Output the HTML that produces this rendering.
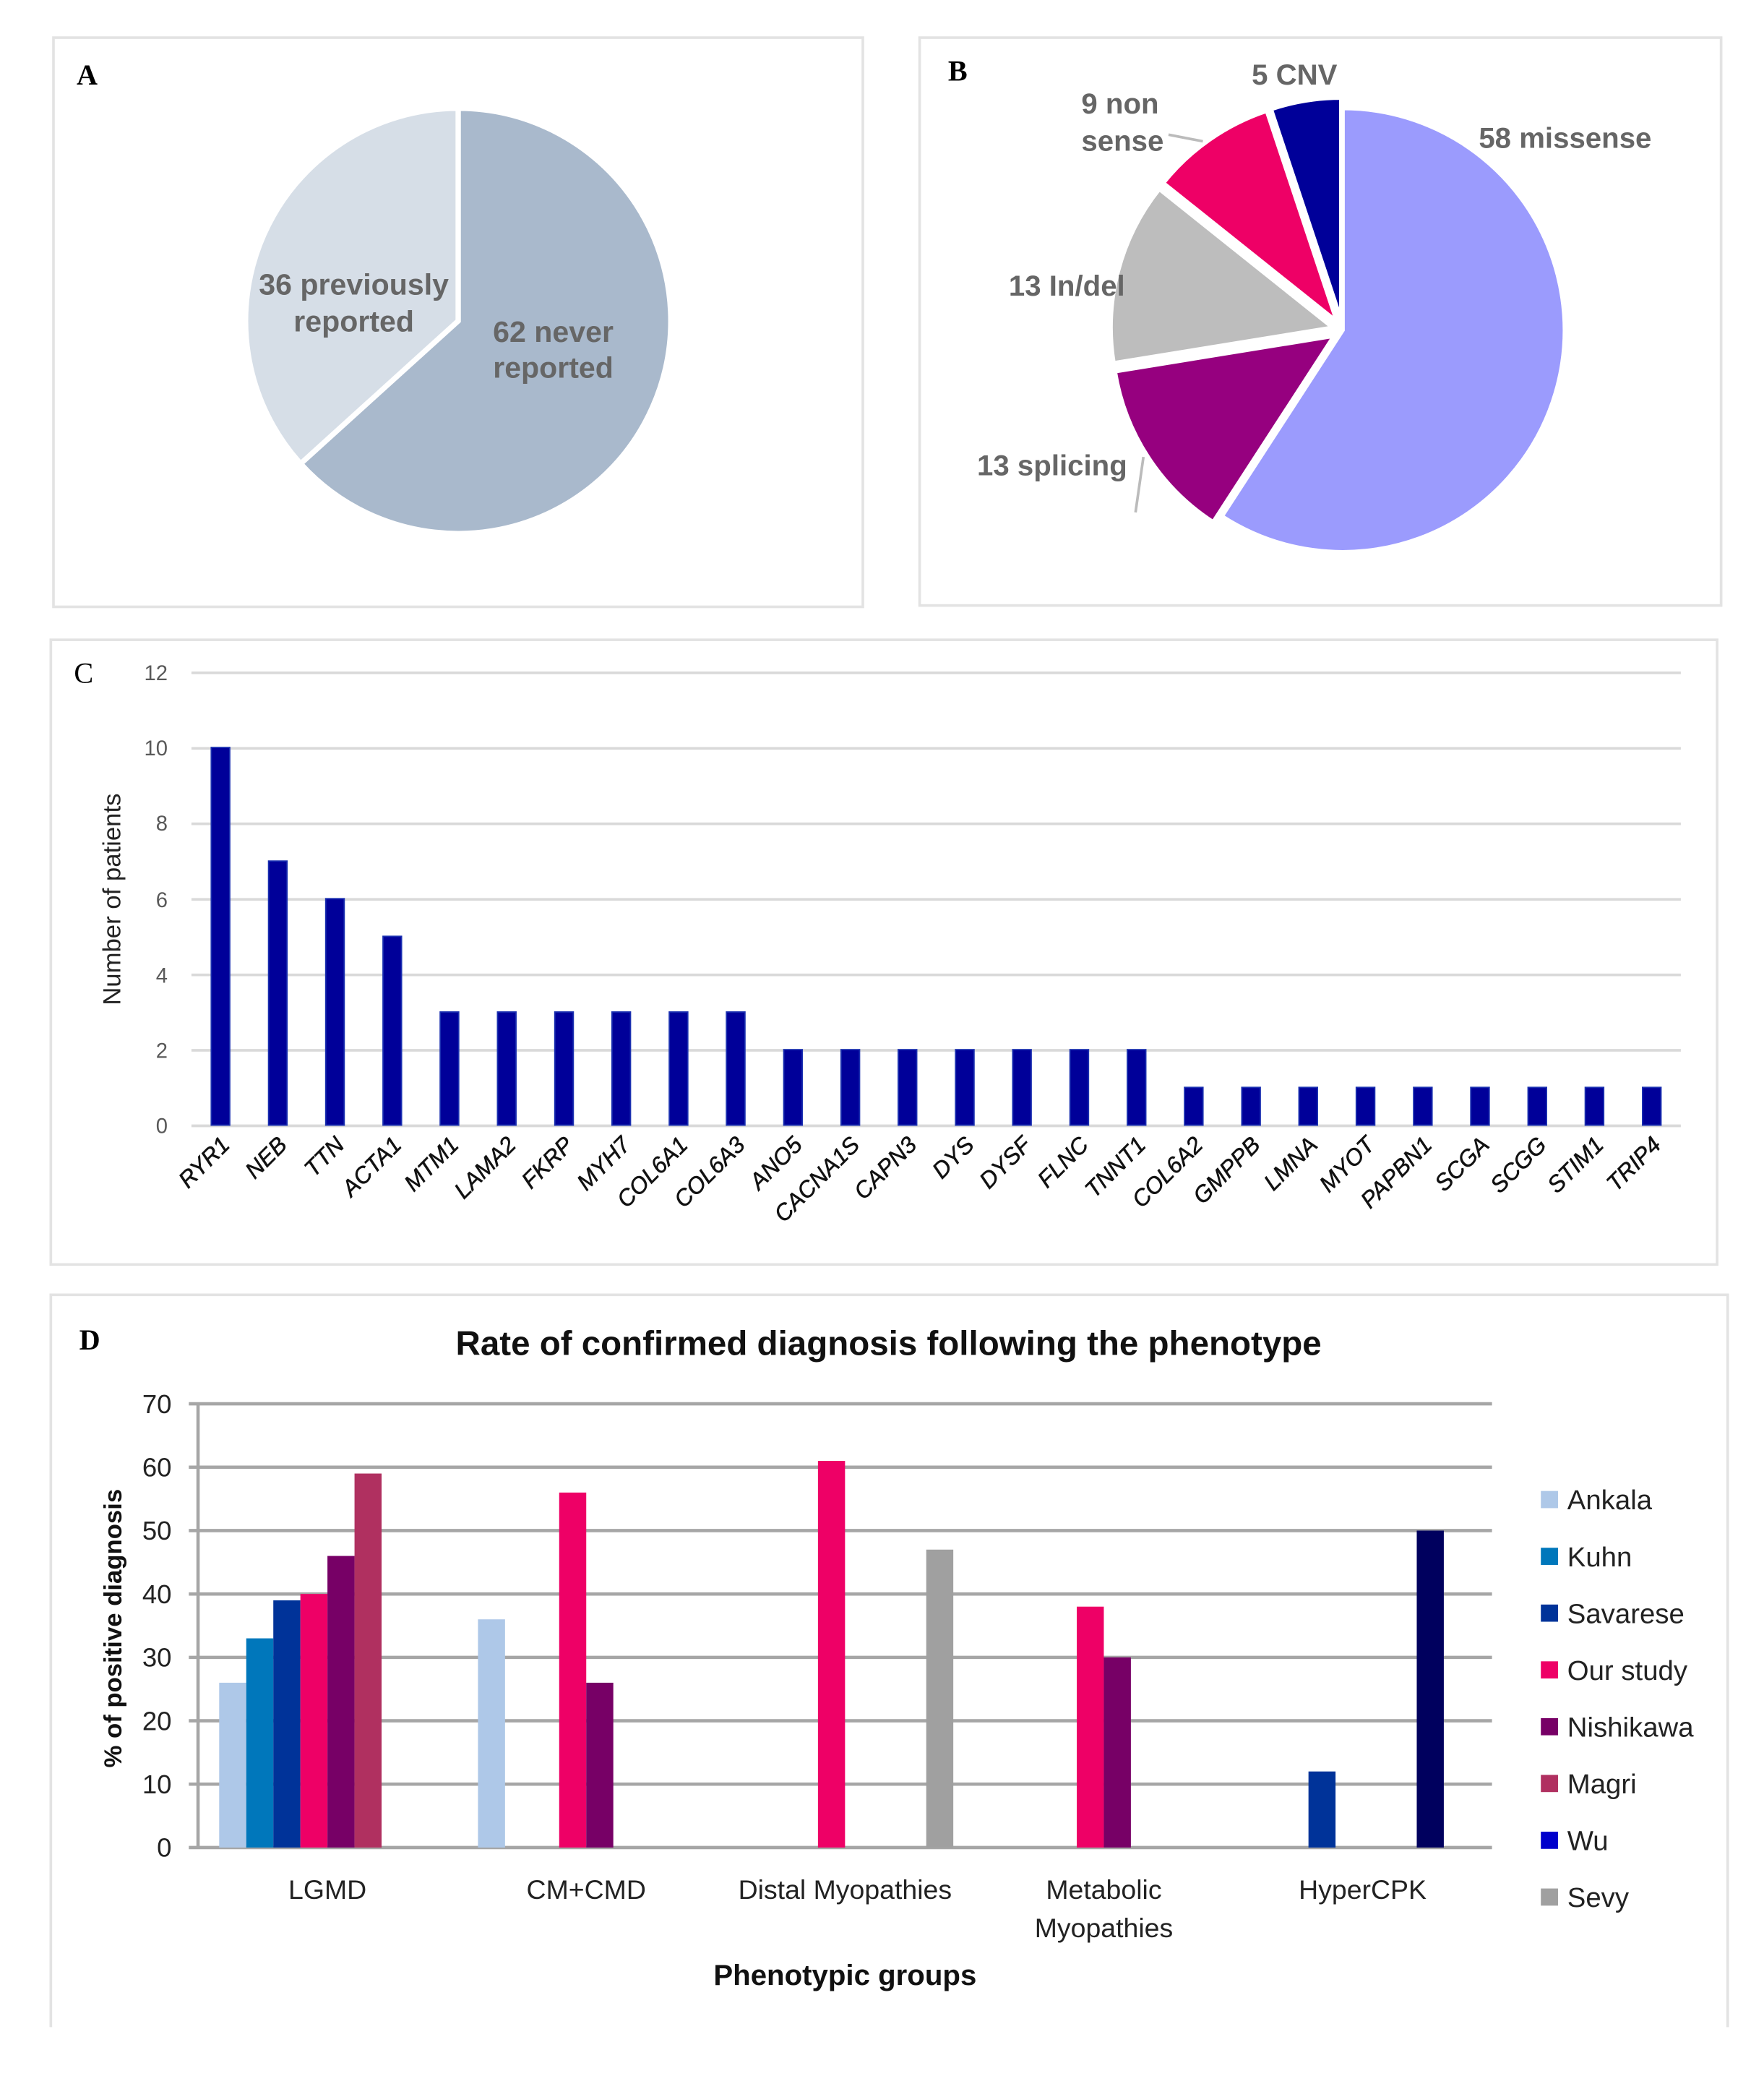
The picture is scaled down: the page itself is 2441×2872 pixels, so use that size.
<!DOCTYPE html>
<html><head><meta charset="utf-8"><style>
html,body{margin:0;padding:0;background:#fff}
svg{display:block}
text{font-family:"Liberation Sans",sans-serif}
</style></head><body>
<svg width="2441" height="2872" viewBox="0 0 1336 1572" preserveAspectRatio="none" xmlns="http://www.w3.org/2000/svg">
<rect width="1336" height="1572" fill="#fff"/>
<rect x="40.5" y="28.5" width="613" height="431" fill="none" stroke="#e3e3e3" stroke-width="2"/>
<rect x="696.5" y="28.5" width="607" height="430" fill="none" stroke="#e3e3e3" stroke-width="2"/>
<rect x="38.5" y="484.5" width="1262" height="473" fill="none" stroke="#e3e3e3" stroke-width="2"/>
<path d="M38.5 1535 V980.5 H1308.5 V1535" fill="none" stroke="#e3e3e3" stroke-width="2"/>

<!-- A -->
<text x="58" y="64" font-weight="bold" font-size="22" style="font-family:'Liberation Serif',serif">A</text>
<path d="M347,243 L347,82 A161,161 0 1 1 227.7,351.1 Z" fill="#A9B9CC" stroke="#fff" stroke-width="4"/>
<path d="M347,243 L227.7,351.1 A161,161 0 0 1 347,82 Z" fill="#D6DEE7" stroke="#fff" stroke-width="4"/>
<g fill="#666" font-weight="bold" font-size="22.5" text-anchor="middle">
<text x="268" y="223">36 previously</text><text x="268" y="251">reported</text>
<text x="419" y="259">62 never</text><text x="419" y="286">reported</text>
</g>

<!-- B -->
<text x="718" y="61" font-weight="bold" font-size="22" style="font-family:'Liberation Serif',serif">B</text>
<path d="M1017,250 L1017,82 A168,168 0 1 1 925.5,390.9 Z" fill="#9B9BFD" stroke="#fff" stroke-width="3"/>
<path d="M1010.3,254.4 L918.8,395.3 A168,168 0 0 1 844.5,281.3 Z" fill="#96007F" stroke="#fff" stroke-width="3"/>
<path d="M1009.3,248 L843.5,274.9 A168,168 0 0 1 878,143.2 Z" fill="#BDBDBD" stroke="#fff" stroke-width="3"/>
<path d="M1012.4,243.4 L881.1,138.6 A168,168 0 0 1 959.4,84 Z" fill="#EE0066" stroke="#fff" stroke-width="3"/>
<path d="M1015.7,242.1 L962.7,82.7 A168,168 0 0 1 1015.7,74.1 Z" fill="#000099" stroke="#fff" stroke-width="3"/>
<path d="M885,102 L911,107" stroke="#bbb" stroke-width="2"/>
<path d="M866,346 L860,388" stroke="#bbb" stroke-width="2"/>
<g fill="#666" font-weight="bold" font-size="22">
<text x="1120" y="112">58 missense</text>
<text x="948" y="64">5 CNV</text>
<text x="819" y="86">9 non</text><text x="819" y="114">sense</text>
<text x="764" y="224">13 In/del</text>
<text x="740" y="360">13 splicing</text>
</g>

<!-- C -->
<text x="56" y="517" font-size="22" style="font-family:'Liberation Serif',serif">C</text>
<g stroke="#d9d9d9" stroke-width="2">
<line x1="145" x2="1273" y1="509.5" y2="509.5"/><line x1="145" x2="1273" y1="566.7" y2="566.7"/>
<line x1="145" x2="1273" y1="623.8" y2="623.8"/><line x1="145" x2="1273" y1="681" y2="681"/>
<line x1="145" x2="1273" y1="738.2" y2="738.2"/><line x1="145" x2="1273" y1="795.3" y2="795.3"/>
<line x1="145" x2="1273" y1="852.5" y2="852.5"/>
</g>
<g fill="#595959" font-size="16" text-anchor="end">
<text x="127" y="515">12</text><text x="127" y="572">10</text><text x="127" y="629">8</text>
<text x="127" y="687">6</text><text x="127" y="744">4</text><text x="127" y="801">2</text><text x="127" y="858">0</text>
</g>
<text transform="translate(91,681) rotate(-90)" text-anchor="middle" font-size="19" fill="#222">Number of patients</text>
<g fill="#000099" stroke="#1a2fb0" stroke-width="1">
<rect x="160" y="566" width="14" height="286"/><rect x="203.4" y="652" width="14" height="200"/>
<rect x="246.7" y="680.5" width="14" height="171.5"/><rect x="290.1" y="709" width="14" height="143"/>
<rect x="333.4" y="766.3" width="14" height="85.7"/><rect x="376.8" y="766.3" width="14" height="85.7"/>
<rect x="420.2" y="766.3" width="14" height="85.7"/><rect x="463.5" y="766.3" width="14" height="85.7"/>
<rect x="506.9" y="766.3" width="14" height="85.7"/><rect x="550.2" y="766.3" width="14" height="85.7"/>
<rect x="593.6" y="794.8" width="14" height="57.2"/><rect x="637" y="794.8" width="14" height="57.2"/>
<rect x="680.3" y="794.8" width="14" height="57.2"/><rect x="723.7" y="794.8" width="14" height="57.2"/>
<rect x="767" y="794.8" width="14" height="57.2"/><rect x="810.4" y="794.8" width="14" height="57.2"/>
<rect x="853.8" y="794.8" width="14" height="57.2"/>
<rect x="897.1" y="823.4" width="14" height="28.6"/><rect x="940.5" y="823.4" width="14" height="28.6"/>
<rect x="983.8" y="823.4" width="14" height="28.6"/><rect x="1027.2" y="823.4" width="14" height="28.6"/>
<rect x="1070.6" y="823.4" width="14" height="28.6"/><rect x="1113.9" y="823.4" width="14" height="28.6"/>
<rect x="1157.3" y="823.4" width="14" height="28.6"/><rect x="1200.6" y="823.4" width="14" height="28.6"/>
<rect x="1244" y="823.4" width="14" height="28.6"/>
</g>
<g font-size="17.5" font-style="italic" text-anchor="end" fill="#111" stroke="#111" stroke-width="0.3">
<text transform="translate(175,868) rotate(-45)">RYR1</text>
<text transform="translate(218.4,868) rotate(-45)">NEB</text>
<text transform="translate(261.7,868) rotate(-45)">TTN</text>
<text transform="translate(305.1,868) rotate(-45)">ACTA1</text>
<text transform="translate(348.4,868) rotate(-45)">MTM1</text>
<text transform="translate(391.8,868) rotate(-45)">LAMA2</text>
<text transform="translate(435.2,868) rotate(-45)">FKRP</text>
<text transform="translate(478.5,868) rotate(-45)">MYH7</text>
<text transform="translate(521.9,868) rotate(-45)">COL6A1</text>
<text transform="translate(565.2,868) rotate(-45)">COL6A3</text>
<text transform="translate(608.6,868) rotate(-45)">ANO5</text>
<text transform="translate(652,868) rotate(-45)">CACNA1S</text>
<text transform="translate(695.3,868) rotate(-45)">CAPN3</text>
<text transform="translate(738.7,868) rotate(-45)">DYS</text>
<text transform="translate(782,868) rotate(-45)">DYSF</text>
<text transform="translate(825.4,868) rotate(-45)">FLNC</text>
<text transform="translate(868.8,868) rotate(-45)">TNNT1</text>
<text transform="translate(912.1,868) rotate(-45)">COL6A2</text>
<text transform="translate(955.5,868) rotate(-45)">GMPPB</text>
<text transform="translate(998.8,868) rotate(-45)">LMNA</text>
<text transform="translate(1042.2,868) rotate(-45)">MYOT</text>
<text transform="translate(1085.6,868) rotate(-45)">PAPBN1</text>
<text transform="translate(1128.9,868) rotate(-45)">SCGA</text>
<text transform="translate(1172.3,868) rotate(-45)">SCGG</text>
<text transform="translate(1215.6,868) rotate(-45)">STIM1</text>
<text transform="translate(1259,868) rotate(-45)">TRIP4</text>
</g>

<!-- D -->
<text x="60" y="1022" font-weight="bold" font-size="22" style="font-family:'Liberation Serif',serif">D</text>
<text x="673" y="1026" text-anchor="middle" font-weight="bold" font-size="26" fill="#111">Rate of confirmed diagnosis following the phenotype</text>
<g transform="translate(0,3)">
<g stroke="#a6a6a6" stroke-width="2.5">
<line x1="143" x2="1130" y1="1060" y2="1060"/><line x1="143" x2="1130" y1="1108" y2="1108"/>
<line x1="143" x2="1130" y1="1156" y2="1156"/><line x1="143" x2="1130" y1="1204" y2="1204"/>
<line x1="143" x2="1130" y1="1252" y2="1252"/><line x1="143" x2="1130" y1="1300" y2="1300"/>
<line x1="143" x2="1130" y1="1348" y2="1348"/><line x1="143" x2="1130" y1="1396" y2="1396"/>
<line x1="150" x2="150" y1="1060" y2="1396"/>
</g>
<g font-size="20" text-anchor="end" fill="#222">
<text x="130" y="1067">70</text><text x="130" y="1115">60</text><text x="130" y="1163">50</text>
<text x="130" y="1211">40</text><text x="130" y="1259">30</text><text x="130" y="1307">20</text>
<text x="130" y="1355">10</text><text x="130" y="1403">0</text>
</g>
<text transform="translate(92,1230) rotate(-90)" text-anchor="middle" font-size="19" font-weight="bold" fill="#111">% of positive diagnosis</text>
<rect x="166" y="1271.2" width="20.5" height="124.8" fill="#AEC8E8"/>
<rect x="186.5" y="1237.6" width="20.5" height="158.4" fill="#0077BB"/>
<rect x="207" y="1208.8" width="20.5" height="187.2" fill="#003399"/>
<rect x="227.5" y="1204" width="20.5" height="192" fill="#EE0066"/>
<rect x="248" y="1175.2" width="20.5" height="220.8" fill="#770066"/>
<rect x="268.5" y="1112.8" width="20.5" height="283.2" fill="#B03060"/>
<rect x="362" y="1223.2" width="20.5" height="172.8" fill="#AEC8E8"/>
<rect x="423.5" y="1127.2" width="20.5" height="268.8" fill="#EE0066"/>
<rect x="444" y="1271.2" width="20.5" height="124.8" fill="#770066"/>
<rect x="619.5" y="1103.2" width="20.5" height="292.8" fill="#EE0066"/>
<rect x="701.5" y="1170.4" width="20.5" height="225.6" fill="#A0A0A0"/>
<rect x="815.5" y="1213.6" width="20.5" height="182.4" fill="#EE0066"/>
<rect x="836" y="1252" width="20.5" height="144" fill="#770066"/>
<rect x="991" y="1338.4" width="20.5" height="57.6" fill="#003399"/>
<rect x="1073" y="1156" width="20.5" height="240" fill="#00005E"/>
<g font-size="20.5" text-anchor="middle" fill="#222">
<text x="248" y="1435">LGMD</text><text x="444" y="1435">CM+CMD</text>
<text x="640" y="1435">Distal Myopathies</text>
<text x="836" y="1435">Metabolic</text><text x="836" y="1464">Myopathies</text>
<text x="1032" y="1435">HyperCPK</text>
</g>
<text x="640" y="1500" text-anchor="middle" font-size="22" font-weight="bold" fill="#111">Phenotypic groups</text>
<g font-size="21" fill="#222">
<rect x="1167" y="1126" width="13" height="13" fill="#AEC8E8"/><text x="1187" y="1140">Ankala</text>
<rect x="1167" y="1169" width="13" height="13" fill="#0077BB"/><text x="1187" y="1183">Kuhn</text>
<rect x="1167" y="1212" width="13" height="13" fill="#003399"/><text x="1187" y="1226">Savarese</text>
<rect x="1167" y="1255" width="13" height="13" fill="#EE0066"/><text x="1187" y="1269">Our study</text>
<rect x="1167" y="1298" width="13" height="13" fill="#770066"/><text x="1187" y="1312">Nishikawa</text>
<rect x="1167" y="1341" width="13" height="13" fill="#B03060"/><text x="1187" y="1355">Magri</text>
<rect x="1167" y="1384" width="13" height="13" fill="#0000CC"/><text x="1187" y="1398">Wu</text>
<rect x="1167" y="1427" width="13" height="13" fill="#A0A0A0"/><text x="1187" y="1441">Sevy</text>
</g>
</g>
</svg>
</body></html>
